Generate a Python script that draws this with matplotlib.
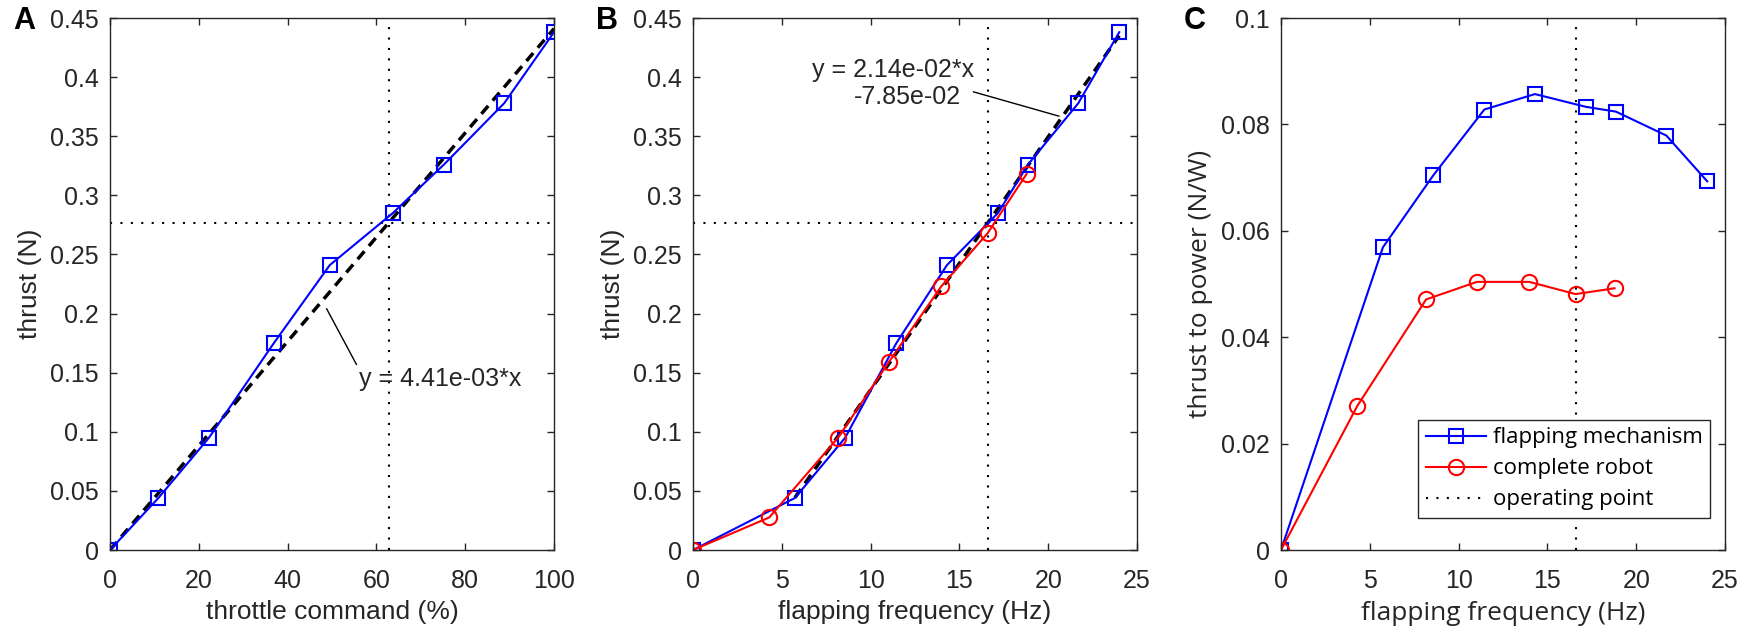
import numpy as np
import matplotlib
matplotlib.use('Agg')
import matplotlib.pyplot as plt
from matplotlib.ticker import FixedLocator, FixedFormatter

# --- data ---
throttle = [0, 10.9, 22.3, 36.9, 49.5, 63.7, 75.2, 88.8, 100]
thrust_mech = [0, 0.044, 0.095, 0.175, 0.241, 0.285, 0.326, 0.378, 0.438]

freq_mech = [0, 5.74, 8.57, 11.45, 14.3, 17.17, 18.86, 21.7, 24.0]
freq_robot = [0, 4.3, 8.17, 11.03, 13.98, 16.59, 18.78]
thrust_robot = [0, 0.0276, 0.095, 0.159, 0.223, 0.268, 0.318]

ttp_mech = [0, 0.0569, 0.0704, 0.0828, 0.0857, 0.0833, 0.0824, 0.0779, 0.0693]
ttp_robot = [0, 0.0271, 0.0471, 0.0504, 0.0504, 0.0481, 0.0492]

slope_a = 4.41e-3
slope_b, icpt_b = 2.14e-2, -7.85e-2
op_thrust = 0.277
op_throttle = 62.8
op_freq = 16.59

AX_COL = '#262626'
FS = 18      # tick labels
LFS = 19     # axis labels
plt.rcParams['font.family'] = ['Liberation Sans', 'DejaVu Sans']
plt.rcParams['font.size'] = FS

fig = plt.figure(figsize=(17.56, 6.31), dpi=100)
W, H = 444 / 1756, 532 / 631
bot = 81 / 631
axA = fig.add_axes([110 / 1756, bot, W, H])
axB = fig.add_axes([693 / 1756, bot, W, H])
axC = fig.add_axes([1281 / 1756, bot, W, H])


def style(ax, xlim, xt, ylim, yt, ylabels):
    ax.set_xlim(*xlim)
    ax.set_ylim(*ylim)
    ax.set_xticks(xt)
    ax.yaxis.set_major_locator(FixedLocator(yt))
    ax.yaxis.set_major_formatter(FixedFormatter(ylabels))
    ax.tick_params(direction='in', length=5, width=1, top=True, right=True,
                   colors=AX_COL, labelcolor=AX_COL, labelsize=FS)
    ax.tick_params(axis='x', pad=14)
    ax.tick_params(axis='y', pad=8)
    for s in ax.spines.values():
        s.set_color(AX_COL)
        s.set_linewidth(1)


yt_thrust = [0, 0.05, 0.1, 0.15, 0.2, 0.25, 0.3, 0.35, 0.4, 0.45]
yl_thrust = ['0', '0.05', '0.1', '0.15', '0.2', '0.25', '0.3', '0.35', '0.4', '0.45']

# --- A ---
style(axA, (0, 100), [0, 20, 40, 60, 80, 100], (0, 0.45), yt_thrust, yl_thrust)
axA.axhline(op_thrust, color='k', ls=(0, (1, 4)), lw=1.5)
axA.axvline(op_throttle, color='k', ls=(0, (1, 4)), lw=1.5)
xa = np.array([0, 100])
axA.plot(xa, slope_a * xa, color='k', ls=(0, (3, 2)), lw=2.5)
axA.plot(throttle, thrust_mech, color='#0000ff', lw=1.5, marker='s', ms=10,
         mfc='none', mew=1.5)
axA.plot([48.8, 55.5], [0.204, 0.157], color='k', lw=1)
axA.text(74.3, 0.145, 'y = 4.41e-03*x', ha='center', va='center', fontsize=FS, color=AX_COL)
axA.set_xlabel('throttle command (%)', fontsize=LFS, color=AX_COL, labelpad=4.5)
axA.set_ylabel('thrust (N)', fontsize=LFS, color=AX_COL, labelpad=6)

# --- B ---
style(axB, (0, 25), [0, 5, 10, 15, 20, 25], (0, 0.45), yt_thrust, yl_thrust)
axB.axhline(op_thrust, color='k', ls=(0, (1, 4)), lw=1.5)
axB.axvline(op_freq, color='k', ls=(0, (1, 4)), lw=1.5)
xb = np.array([freq_mech[1], freq_mech[-1]])
axB.plot(xb, slope_b * xb + icpt_b, color='k', ls=(0, (3, 2)), lw=2.5)
axB.plot(freq_mech, thrust_mech, color='#0000ff', lw=1.5, marker='s', ms=10,
         mfc='none', mew=1.5)
axB.plot(freq_robot, thrust_robot, color='#ff0000', lw=1.5, marker='o', ms=11,
         mfc='none', mew=1.5)
axB.plot([15.8, 20.6], [0.3875, 0.367], color='k', lw=1)
axB.text(11.28, 0.4057, 'y = 2.14e-02*x', ha='center', va='center', fontsize=FS, color=AX_COL)
axB.text(12.05, 0.3835, '-7.85e-02', ha='center', va='center', fontsize=FS, color=AX_COL)
axB.set_xlabel('flapping frequency (Hz)', fontsize=LFS, color=AX_COL, labelpad=4.5)
axB.set_ylabel('thrust (N)', fontsize=LFS, color=AX_COL, labelpad=6)

# --- C ---
style(axC, (0, 25), [0, 5, 10, 15, 20, 25], (0, 0.1),
      [0, 0.02, 0.04, 0.06, 0.08, 0.1], ['0', '0.02', '0.04', '0.06', '0.08', '0.1'])
axC.plot(freq_mech, ttp_mech, color='#0000ff', lw=1.5, marker='s', ms=10,
         mfc='none', mew=1.5, label='flapping mechanism')
axC.plot(freq_robot, ttp_robot, color='#ff0000', lw=1.5, marker='o', ms=11,
         mfc='none', mew=1.5, label='complete robot')
axC.axvline(op_freq, color='k', ls=(0, (1, 4)), lw=1.5, label='operating point')
cfont = ['Open Sans', 'DejaVu Sans']
axC.set_xlabel('flapping frequency (Hz)', fontsize=LFS, color=AX_COL, family=cfont, labelpad=5.5)
axC.set_ylabel('thrust to power (N/W)', fontsize=LFS, color=AX_COL, family=cfont, labelpad=6)
leg = axC.legend(loc='lower right', bbox_to_anchor=(0.967, 0.06), fancybox=False,
                 framealpha=1, edgecolor=AX_COL, borderpad=0.35, labelspacing=0.45,
                 handlelength=2.7, handletextpad=0.3, borderaxespad=0,
                 prop={'family': cfont, 'size': 16})
leg.get_frame().set_linewidth(1)

# panel letters
for ax, lab in ((axA, 'A'), (axB, 'B'), (axC, 'C')):
    x0 = ax.get_position().x0 - 97 / 1756
    fig.text(x0, 1 - 21 / 631, lab, fontsize=22, fontweight='bold',
             ha='left', va='center', color='k')

fig.savefig('out.png', dpi=100)
